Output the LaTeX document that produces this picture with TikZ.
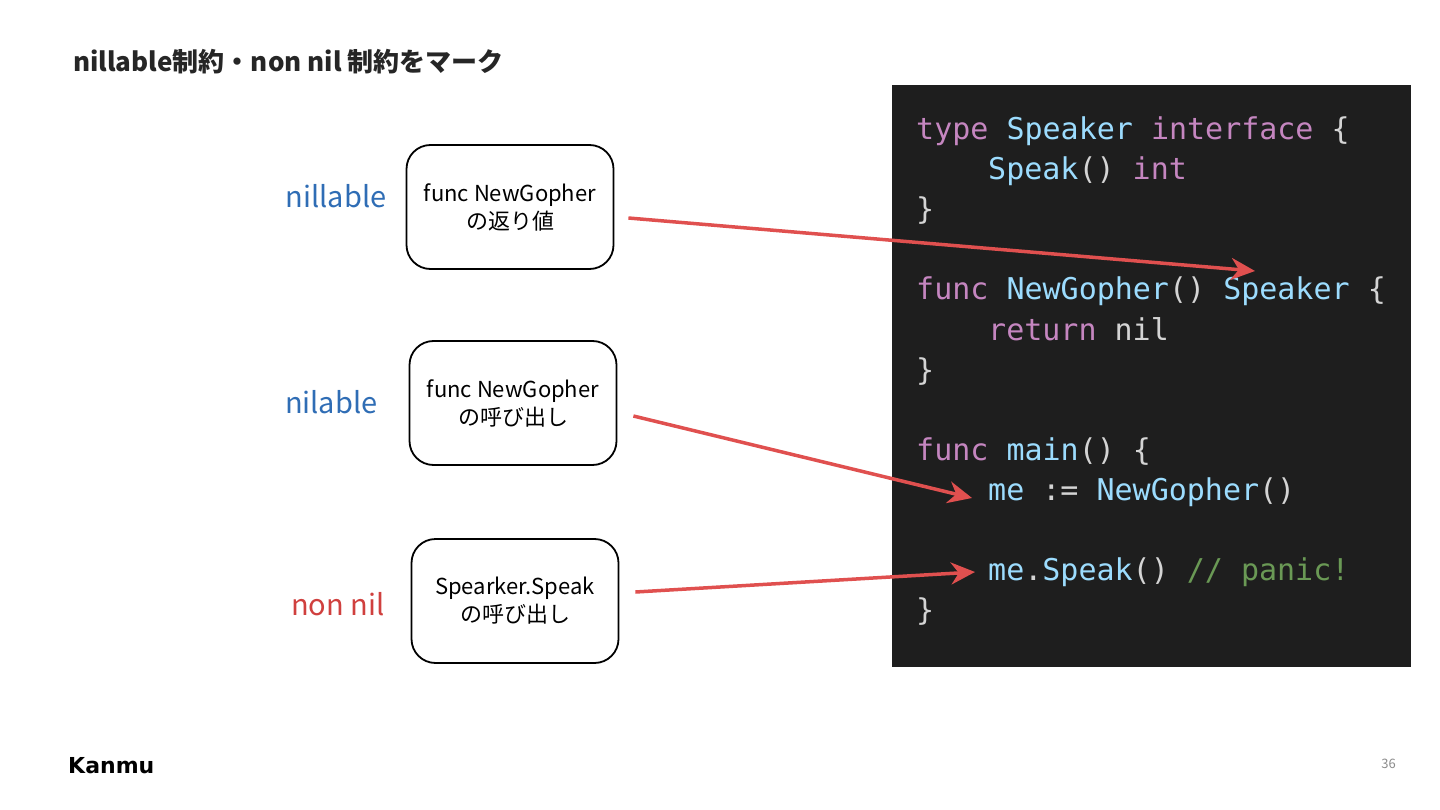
\documentclass[tikz,border=0pt]{standalone}
\usepackage{fontspec}
\setmainfont{Noto Sans CJK JP}
\setmonofont{DejaVu Sans Mono}
\newfontfamily\titlefont{Noto Sans CJK JP}
\newfontfamily\logofont{DejaVu Sans}
\usetikzlibrary{positioning,arrows.meta}

\definecolor{codebg}{HTML}{1E1E1E}
\definecolor{kw}{HTML}{C586C0}
\definecolor{idt}{HTML}{9CDCFE}
\definecolor{plain}{HTML}{D4D4D4}
\definecolor{cmt}{HTML}{6A9955}
\definecolor{arrowred}{HTML}{E0504F}
\definecolor{nilblue}{HTML}{2F6DB5}
\definecolor{nonred}{HTML}{D0403E}

\tikzset{
  callbox/.style={draw, line width=1.8pt, rounded corners=24pt, minimum width=207pt,
    minimum height=124pt, align=center, font=\fontsize{22}{28}\selectfont},
  tag/.style={anchor=east, font=\fontsize{29}{30}\selectfont},
  codeline/.style={anchor=base west, inner sep=0pt, text=plain,
    font=\ttfamily\fontsize{30}{36}\selectfont},
  redarrow/.style={draw=arrowred, line width=3.5pt, -{Stealth[length=24pt,width=22pt]}}
}

\begin{document}
\begin{tikzpicture}[x=1pt,y=-1pt]
    \useasboundingbox (0,0) rectangle (1440,810);
    \fill[white] (0,0) rectangle (1440,810);

    % Title
    \node[anchor=base west, inner sep=0pt, font=\titlefont\bfseries\fontsize{26}{30}\selectfont, text=black!85]
      (title) at (73,72) {nillable制約・non nil 制約をマーク};

    % Boxes
    \node[callbox] (ret) at (510,207) {func NewGopher\\の返り値};
    \node[callbox] (call) at (513,403) {func NewGopher\\の呼び出し};
    \node[callbox] (speak) at (515,601) {Spearker.Speak\\の呼び出し};

    % Tags
    \node[tag, text=nilblue] (tagret) at (390,196) {nillable};
    \node[tag, text=nilblue] (tagcall) at (381,402) {nilable};
    \node[tag, text=nonred] (tagspeak) at (388,604) {non nil};

    % Code panel
    \fill[codebg] (892,85) rectangle (1411,667);
    \node[codeline] (l1) at (916,140) {\textcolor{kw}{type} \textcolor{idt}{Speaker} \textcolor{kw}{interface} \{};
    \node[codeline] (l2) at (988,180) {\textcolor{idt}{Speak}() \textcolor{kw}{int}};
    \node[codeline] (l3) at (916,220) {\}};
    \node[codeline] (l4) at (916,300) {\textcolor{kw}{func} \textcolor{idt}{NewGopher}() \textcolor{idt}{Speaker} \{};
    \node[codeline] (l5) at (988,340) {\textcolor{kw}{return} nil};
    \node[codeline] (l6) at (916,380) {\}};
    \node[codeline] (l7) at (916,460) {\textcolor{kw}{func} \textcolor{idt}{main}() \{};
    \node[codeline] (l8) at (988,500) {\textcolor{idt}{me} := \textcolor{idt}{NewGopher}()};
    \node[codeline] (l9) at (988,580) {\textcolor{idt}{me}.\textcolor{idt}{Speak}() \textcolor{cmt}{// panic!}};
    \node[codeline] (l10) at (916,620) {\}};

    % Arrow ends
    \coordinate (retend) at (1255,271);
    \coordinate (callend) at (972,498);
    \coordinate (speakend) at (975,572);

    \draw[redarrow] ([xshift=14pt,yshift=-11pt]ret.east) -- (retend);
    \draw[redarrow] ([xshift=16pt,yshift=-13pt]call.east) -- (callend);
    \draw[redarrow] ([xshift=16pt,yshift=9pt]speak.east) -- (speakend);

    % Footer
    \node[anchor=base west, inner sep=0pt, font=\logofont\bfseries\fontsize{22}{24}\selectfont]
      (logo) at (68,773) {Kanmu};
    \node[anchor=base east, inner sep=0pt, text=black!45, font=\fontsize{13}{15}\selectfont]
      (page) at (1396,768) {36};
\end{tikzpicture}
\end{document}
